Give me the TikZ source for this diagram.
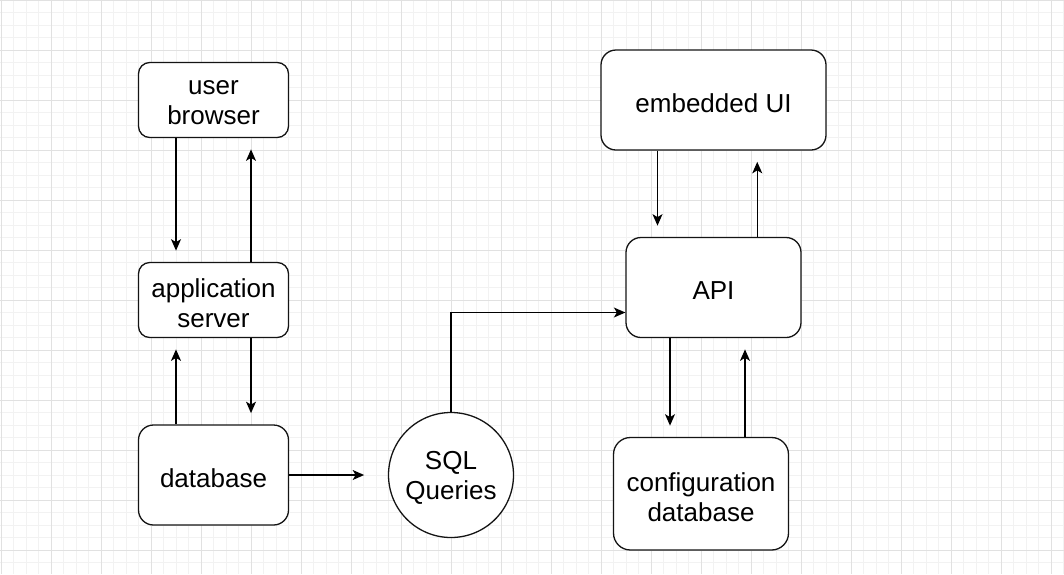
\documentclass[tikz,border=0pt]{standalone}
\usepackage{fontspec}
\setmainfont{Liberation Sans}
\usetikzlibrary{arrows.meta}
\definecolor{gridminor}{RGB}{242,242,242}
\definecolor{gridmajor}{RGB}{225,225,225}
\definecolor{edgecol}{RGB}{20,20,20}
\tikzset{
  lbl/.style={align=center, inner sep=0pt, yshift=-3pt, font=\fontsize{26}{30}\selectfont},
  box/.style={draw=edgecol, line width=1.3pt, fill=white, rectangle, inner sep=0pt},
  roundbox/.style={box, rounded corners=#1},
  circ/.style={draw=edgecol, line width=1.3pt, fill=white, circle, inner sep=0pt},
  arr/.style={draw=black, line width=1.3pt, -{Stealth[length=11.5pt,width=10pt,inset=3pt]}}
}
\begin{document}
\begin{tikzpicture}[x=1pt,y=-1pt]
\useasboundingbox (0,0) rectangle (1064,574);
\fill[white] (0,0) rectangle (1064,574);
% grid
\foreach \i in {0,...,85} {
  \draw[gridminor, line width=0.8pt] ({1+12.5*\i},0) -- ({1+12.5*\i},574);
}
\foreach \j in {0,...,45} {
  \draw[gridminor, line width=0.8pt] (0,{12.5*\j}) -- (1064,{12.5*\j});
}
\foreach \i in {0,...,21} {
  \draw[gridmajor, line width=0.8pt] ({1+50*\i},0) -- ({1+50*\i},574);
}
\foreach \j in {0,...,11} {
  \draw[gridmajor, line width=0.8pt] (0,{50*\j}) -- (1064,{50*\j});
}
% nodes
\node[roundbox=11.25pt, minimum width=150pt, minimum height=75pt,
  label={[lbl]center:user\\browser}] (ub) at (213.5,100) {};
\node[roundbox=11.25pt, minimum width=150pt, minimum height=75pt,
  label={[lbl]center:application\\server}] (as) at (213.5,300) {};
\node[roundbox=15pt, minimum width=150pt, minimum height=100pt,
  label={[lbl]center:database}] (db) at (213.5,475) {};
\node[circ, minimum size=125pt,
  label={[lbl]center:SQL\\Queries}] (sql) at (451,475) {};
\node[roundbox=15pt, minimum width=225pt, minimum height=100pt,
  label={[lbl]center:embedded UI}] (eui) at (713.5,100) {};
\node[roundbox=15pt, minimum width=175pt, minimum height=100pt,
  label={[lbl]center:API}] (api) at (713.5,287.5) {};
\node[roundbox=16.9pt, minimum width=175pt, minimum height=112.5pt,
  label={[lbl]center:configuration\\database}] (cdb) at (701,493.75) {};
% connectors
\draw[arr] ([xshift=-37.5pt]ub.south) -- ++(0,112.5);
\draw[arr] ([xshift=37.5pt]as.north) -- ++(0,-112.5);
\draw[arr] ([xshift=37.5pt]as.south) -- ++(0,75);
\draw[arr] ([xshift=-37.5pt]db.north) -- ++(0,-75);
\draw[arr] (db.east) -- ++(75,0);
\draw[arr] (sql.north) |- ([yshift=-25pt]api.west);
\draw[arr] ([xshift=-56pt]eui.south) -- ++(0,75);
\draw[arr] ([xshift=43.75pt]api.north) -- ++(0,-75);
\draw[arr] ([xshift=-43.5pt]api.south) -- ++(0,87.5);
\draw[arr] ([xshift=44pt]cdb.north) -- ++(0,-87.5);
\end{tikzpicture}
\end{document}
